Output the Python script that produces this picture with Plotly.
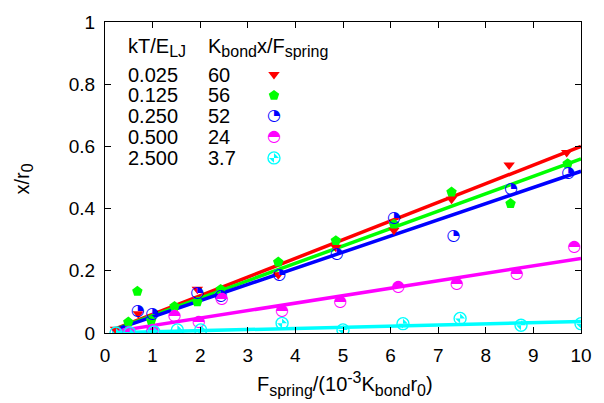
import plotly.graph_objects as go

# Temperatures, fitted slopes (K_bond x / F_spring) and colours of the five series
temps = ["0.025", "0.125", "0.250", "0.500", "2.500"]
slopes = [60, 56, 52, 24, 3.7]
colors = ["#ff0000", "#00ff00", "#0000ff", "#ff00ff", "#00ffff"]

# Measured extension x/r0 against spring force F_spring/(1e-3 K_bond r0)
red_x = [0.22, 0.70, 1.94, 3.64, 4.85, 6.07, 7.28, 8.49, 9.70]
red_y = [0.012, 0.062, 0.141, 0.187, 0.276, 0.330, 0.430, 0.540, 0.580]

green_x = [0.49, 0.68, 0.97, 1.46, 1.94, 2.43, 3.64, 4.85, 6.07, 7.28, 8.52, 9.72]
green_y = [0.035, 0.134, 0.040, 0.085, 0.100, 0.140, 0.228, 0.297, 0.350, 0.453, 0.416, 0.544]

blue_x = [0.69, 0.99, 1.94, 2.43, 3.66, 4.87, 6.07, 7.32, 8.53, 9.73]
blue_y = [0.072, 0.062, 0.128, 0.120, 0.187, 0.253, 0.369, 0.313, 0.463, 0.516]

magenta_x = [0.50, 1.00, 1.46, 1.97, 2.45, 3.72, 4.94, 6.16, 7.39, 8.65, 9.86]
magenta_y = [0.002, 0.010, 0.056, 0.035, 0.110, 0.072, 0.100, 0.147, 0.157, 0.190, 0.278]

cyan_x = [0.23, 0.52, 1.03, 1.52, 2.01, 3.72, 5.00, 6.26, 7.46, 8.74, 10.0]
cyan_y = [0.000, 0.000, 0.003, 0.010, 0.010, 0.031, 0.010, 0.030, 0.047, 0.025, 0.030]

# Range over which the linear fits are drawn
fit_x = [0.15, 10.0]

x_ticks = list(range(0, 11))
y_ticks = [0, 0.2, 0.4, 0.6, 0.8, 1]
y_tick_text = ["0", "0.2", "0.4", "0.6", "0.8", "1"]

FONT = "Liberation Sans, Arial, sans-serif"
GLYPH_FONT = "DejaVu Sans"
FS = 20
TICK_FS = 19
SUB_FS = 16


def sub(s):
    return f'<sub><span style="font-size:{SUB_FS}px">{s}</span></sub>'


def sup(s):
    return f'<sup><span style="font-size:{SUB_FS}px">{s}</span></sup>'


fig = go.Figure()

# Linear fits y = slope * 1e-3 * x
for k, c in zip(slopes, colors):
    fig.add_trace(go.Scatter(
        x=fit_x, y=[k * 1e-3 * v for v in fit_x], mode="lines",
        line=dict(color=c, width=3.5), showlegend=False, hoverinfo="skip"))


def circle_glyph(x, y, glyph, color, xa="x", ya="y"):
    return go.Scatter(x=x, y=y, mode="text", text=[glyph] * len(x),
                      textposition="middle center", xaxis=xa, yaxis=ya,
                      textfont=dict(family=GLYPH_FONT, size=16, color=color),
                      showlegend=False)


def checker(x, y, color, xa="x", ya="y"):
    return [
        go.Scatter(x=x, y=y, mode="markers", xaxis=xa, yaxis=ya,
                   marker=dict(symbol="circle-open", size=12, color=color,
                               line=dict(width=1.4, color=color)),
                   showlegend=False),
        go.Scatter(x=x, y=y, mode="markers", xaxis=xa, yaxis=ya,
                   marker=dict(symbol="bowtie", size=7, angle=-45, color=color,
                               line=dict(width=0)),
                   showlegend=False),
    ]


def data_traces(xs, ys, xa="x", ya="y"):
    (rx, gx, bx, mx, cx), (ry, gy, by, my, cy) = xs, ys
    tr = [
        go.Scatter(x=rx, y=ry, mode="markers", xaxis=xa, yaxis=ya,
                   marker=dict(symbol="triangle-down", size=10, color=colors[0]),
                   showlegend=False),
        go.Scatter(x=gx, y=gy, mode="markers", xaxis=xa, yaxis=ya,
                   marker=dict(symbol="pentagon", size=11, color=colors[1]),
                   showlegend=False),
        circle_glyph(bx, by, "\u25d4", colors[2], xa, ya),
        circle_glyph(mx, my, "\u25d3", colors[3], xa, ya),
    ]
    tr += checker(cx, cy, colors[4], xa, ya)
    return tr


for t in data_traces((red_x, green_x, blue_x, magenta_x, cyan_x),
                     (red_y, green_y, blue_y, magenta_y, cyan_y)):
    fig.add_trace(t)

# Key: one sample per series on an overlay axis spanning the plot area
key_col = 0.355
key_rows = [0.831, 0.764, 0.697, 0.630, 0.563]
key_head = 0.918
for t in data_traces(([key_col], [key_col], [key_col], [key_col], [key_col]),
                     ([key_rows[0]], [key_rows[1]], [key_rows[2]], [key_rows[3]], [key_rows[4]]),
                     xa="x2", ya="y2"):
    fig.add_trace(t)

annotations = []
col1, col2 = 0.044, 0.212
annotations.append(dict(x=col1, y=key_head, text="kT/E" + sub("LJ")))
annotations.append(dict(x=col2, y=key_head, text="K" + sub("bond") + "x/F" + sub("spring")))
for t, k, yr in zip(temps, slopes, key_rows):
    annotations.append(dict(x=col1, y=yr, text=t))
    annotations.append(dict(x=col2, y=yr, text=f"{k:g}"))
for a in annotations:
    a.update(xref="paper", yref="paper", xanchor="left", yanchor="middle",
             showarrow=False, font=dict(family=FONT, size=FS, color="black"))

# Axis titles
annotations.append(dict(x=0.504, y=-0.165, xref="paper", yref="paper",
                        text="F" + sub("spring") + "/(10" + sup("-3") + "K" + sub("bond")
                             + "r" + sub("0") + ")",
                        showarrow=False, xanchor="center", yanchor="middle",
                        font=dict(family=FONT, size=FS, color="black")))
annotations.append(dict(x=-0.172, y=0.494, xref="paper", yref="paper",
                        text="x/r" + sub("0"), textangle=-90,
                        showarrow=False, xanchor="center", yanchor="middle",
                        font=dict(family=FONT, size=FS, color="black")))

axis_common = dict(showline=True, linecolor="black", linewidth=1, mirror="ticks",
                   ticks="inside", ticklen=6, tickcolor="black", tickwidth=1,
                   showgrid=False, zeroline=False,
                   tickfont=dict(family=FONT, size=TICK_FS, color="black"))

fig.update_layout(
    width=604, height=403,
    margin=dict(l=105, r=23, t=13, b=70),
    paper_bgcolor="white", plot_bgcolor="white",
    showlegend=False,
    xaxis=dict(range=[0, 10], tickvals=x_ticks, ticklabelstandoff=5, **axis_common),
    yaxis=dict(range=[0, 1], tickvals=y_ticks, ticktext=y_tick_text,
               ticklabelstandoff=5, **axis_common),
    xaxis2=dict(range=[0, 1], overlaying="x", visible=False),
    yaxis2=dict(range=[0, 1], overlaying="y", visible=False),
    annotations=annotations,
)

fig.write_html("out.html")
